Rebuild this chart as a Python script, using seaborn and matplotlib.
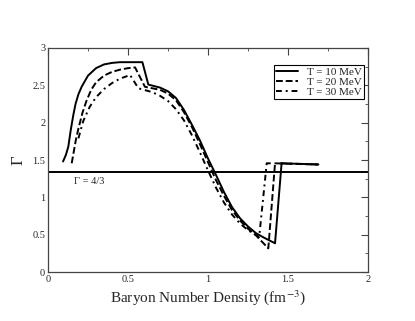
import pandas as pd
import matplotlib
matplotlib.use("Agg")
import matplotlib.pyplot as plt
import seaborn as sns
from matplotlib.ticker import MultipleLocator

# --- data ---
n_10 = [0.094, 0.112, 0.127, 0.142, 0.158, 0.172, 0.19, 0.21, 0.25, 0.30, 0.35,
        0.40, 0.45, 0.50, 0.59, 0.627, 0.70, 0.75, 0.80, 0.85, 0.90, 0.95, 1.00,
        1.05, 1.10, 1.15, 1.20, 1.25, 1.30, 1.35, 1.419, 1.46, 1.55, 1.69]
g_10 = [1.48, 1.57, 1.68, 1.90, 2.10, 2.25, 2.38, 2.48, 2.63, 2.73, 2.78,
        2.80, 2.81, 2.81, 2.81, 2.51, 2.47, 2.42, 2.33, 2.17, 1.97, 1.76, 1.52,
        1.30, 1.07, 0.87, 0.72, 0.61, 0.52, 0.46, 0.385, 1.456, 1.45, 1.44]

n_20 = [0.148, 0.16, 0.175, 0.19, 0.215, 0.24, 0.27, 0.30, 0.35, 0.40, 0.45,
        0.50, 0.544, 0.606, 0.70, 0.75, 0.80, 0.85, 0.90, 0.95, 1.00, 1.05,
        1.10, 1.15, 1.20, 1.25, 1.30, 1.377, 1.419, 1.50, 1.69]
g_20 = [1.456, 1.60, 1.78, 1.92, 2.13, 2.29, 2.44, 2.54, 2.63, 2.68, 2.71,
        2.73, 2.74, 2.48, 2.44, 2.39, 2.30, 2.14, 1.94, 1.71, 1.47, 1.23,
        1.02, 0.83, 0.69, 0.58, 0.49, 0.317, 1.456, 1.45, 1.44]

n_30 = [0.19, 0.22, 0.26, 0.30, 0.35, 0.40, 0.45, 0.49, 0.5125, 0.565, 0.65,
        0.70, 0.75, 0.80, 0.85, 0.90, 0.95, 1.00, 1.05, 1.10, 1.15, 1.20, 1.25,
        1.32, 1.367, 1.45, 1.69]
g_30 = [1.79, 2.02, 2.21, 2.34, 2.45, 2.53, 2.59, 2.62, 2.64, 2.46, 2.41,
        2.36, 2.29, 2.18, 2.03, 1.83, 1.60, 1.36, 1.13, 0.93, 0.77, 0.65, 0.56,
        0.47, 1.456, 1.455, 1.44]

labels = ["T = 10 MeV", "T = 20 MeV", "T = 30 MeV"]
gamma_ref = 4.0 / 3.0

df = pd.concat([
    pd.DataFrame({"n": n_10, "gamma": g_10, "T": labels[0]}),
    pd.DataFrame({"n": n_20, "gamma": g_20, "T": labels[1]}),
    pd.DataFrame({"n": n_30, "gamma": g_30, "T": labels[2]}),
], ignore_index=True)

sns.set_theme(style="white")
plt.rcParams["font.family"] = ["Liberation Serif", "DejaVu Serif"]
plt.rcParams["mathtext.fontset"] = "stix"

fig = plt.figure(figsize=(4.15, 3.21), dpi=100)
ax = fig.add_axes([0.1157, 0.1526, 0.771, 0.6979])

dash_styles = {labels[0]: "", labels[1]: (3.5, 1.5), labels[2]: (3, 2, 1, 2)}
sns.lineplot(data=df, x="n", y="gamma", style="T", dashes=dash_styles,
             color="black", linewidth=1.4, sort=False, estimator=None, ax=ax)

ax.axhline(gamma_ref, color="black", linewidth=1.4)
ax.text(0.1625, 1.18, "Γ = 4/3", fontsize=7.5)

ax.set_xlim(0, 2)
ax.set_ylim(0, 3)
ax.xaxis.set_major_locator(MultipleLocator(0.5))
ax.xaxis.set_minor_locator(MultipleLocator(0.25))
ax.yaxis.set_major_locator(MultipleLocator(0.5))
ax.yaxis.set_minor_locator(MultipleLocator(0.25))
ax.xaxis.set_major_formatter(plt.FuncFormatter(lambda v, p: f"{v:g}"))
ax.yaxis.set_major_formatter(plt.FuncFormatter(lambda v, p: f"{v:g}"))
ax.tick_params(which="both", direction="in", top=True, right=True,
               labelsize=7.5, pad=2, color="#444444")
ax.tick_params(which="major", length=5, width=0.8)
ax.tick_params(which="minor", length=2.5, width=0.6)
for s in ax.spines.values():
    s.set_color("#444444")
    s.set_linewidth(0.9)

ax.set_xlabel("Baryon Number Density (fm$^{-3}$)", fontsize=11, labelpad=3)
ax.set_ylabel("Γ", fontsize=12, labelpad=4)

handles, labs = ax.get_legend_handles_labels()
leg = ax.legend(handles, labs, loc="upper right", bbox_to_anchor=(0.9875, 0.924),
                borderaxespad=0, fontsize=8, frameon=True, fancybox=False,
                edgecolor="black", framealpha=1, handlelength=2.0,
                handletextpad=0.8, borderpad=0.2, labelspacing=0.0)
leg.get_frame().set_linewidth(0.8)

fig.savefig("out.png", dpi=100)
